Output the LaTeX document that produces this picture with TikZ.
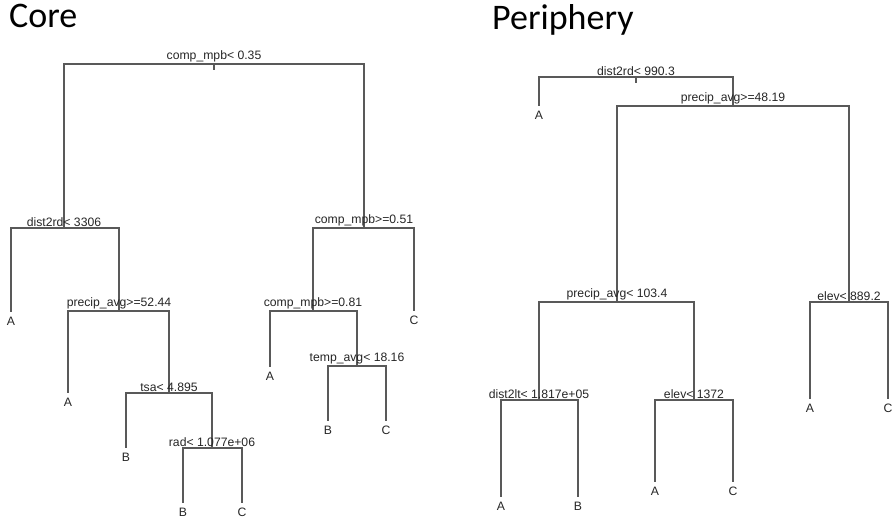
\documentclass[tikz,border=0pt]{standalone}
\usepackage{fontspec}
\setmainfont{Liberation Sans}
\newfontfamily\titlefont{Carlito}
\begin{document}
\begin{tikzpicture}[x=1pt,y=-1pt,
  treeline/.style={draw=black!65,line width=1.3pt},
  split/.style={anchor=south,inner sep=0.5pt,yshift=1pt,text=black!85,font=\fontsize{12.2}{14}\selectfont},
  leaf/.style={anchor=north,inner sep=0pt,yshift=-5pt,text=black!85,font=\fontsize{12.2}{14}\selectfont},
  title/.style={anchor=base west,inner sep=0pt,font=\titlefont\fontsize{36}{42}\selectfont}]
\useasboundingbox (0,0) rectangle (896,521);
% titles
\node[title] (tcore) at (9,28) {Core};
\node[title] (tper) at (492,30) {Periphery};

% ---------- Core tree ----------
\coordinate (c1) at (214,64);
\coordinate (c2) at (64,228);
\coordinate (c2a) at (11,312);
\coordinate (c3) at (119,311);
\coordinate (c3a) at (68,393);
\coordinate (c4) at (169,393);
\coordinate (c4b) at (126,448);
\coordinate (c5) at (212,448);
\coordinate (c5b) at (183,503);
\coordinate (c5c) at (242,503);
\coordinate (c6) at (364,228);
\coordinate (c6c) at (414,311);
\coordinate (c7) at (313,311);
\coordinate (c7a) at (270,367);
\coordinate (c8) at (357,366);
\coordinate (c8b) at (328,421);
\coordinate (c8c) at (386,421);

\draw[treeline] (c1) -| (c2);
\draw[treeline] (c1) -| (c6);
\draw[treeline] (c1) -- ++(0,6);
\draw[treeline] (c2) -| (c2a);
\draw[treeline] (c2) -| (c3);
\draw[treeline] (c3) -| (c3a);
\draw[treeline] (c3) -| (c4);
\draw[treeline] (c4) -| (c4b);
\draw[treeline] (c4) -| (c5);
\draw[treeline] (c5) -| (c5b);
\draw[treeline] (c5) -| (c5c);
\draw[treeline] (c6) -| (c7);
\draw[treeline] (c6) -| (c6c);
\draw[treeline] (c7) -| (c7a);
\draw[treeline] (c7) -| (c8);
\draw[treeline] (c8) -| (c8b);
\draw[treeline] (c8) -| (c8c);

\node[split] (sc1) at (c1) {comp\_mpb< 0.35};
\node[split] (sc2) at (c2) {dist2rd< 3306};
\node[split] (sc3) at (c3) {precip\_avg>=52.44};
\node[split] (sc4) at (c4) {tsa< 4.895};
\node[split] (sc5) at (c5) {rad< 1.077e+06};
\node[split] (sc6) at (c6) {comp\_mpb>=0.51};
\node[split] (sc7) at (c7) {comp\_mpb>=0.81};
\node[split] (sc8) at (c8) {temp\_avg< 18.16};

\node[leaf] (lc2a) at (c2a) {A};
\node[leaf] (lc3a) at (c3a) {A};
\node[leaf] (lc4b) at (c4b) {B};
\node[leaf] (lc5b) at (c5b) {B};
\node[leaf] (lc5c) at (c5c) {C};
\node[leaf] (lc6c) at (c6c) {C};
\node[leaf] (lc7a) at (c7a) {A};
\node[leaf] (lc8b) at (c8b) {B};
\node[leaf] (lc8c) at (c8c) {C};

% ---------- Periphery tree ----------
\coordinate (p1) at (636,77);
\coordinate (p1a) at (539,106);
\coordinate (p2) at (733,106);
\coordinate (p3) at (617,302);
\coordinate (p4) at (539,400);
\coordinate (p4a) at (501,497);
\coordinate (p4b) at (578,497);
\coordinate (p5) at (694,400);
\coordinate (p5a) at (655,482);
\coordinate (p5c) at (733,482);
\coordinate (p6) at (849,302);
\coordinate (p6a) at (810,399);
\coordinate (p6c) at (888,399);

\draw[treeline] (p1) -| (p1a);
\draw[treeline] (p1) -| (p2);
\draw[treeline] (p1) -- ++(0,6);
\draw[treeline] (p2) -| (p3);
\draw[treeline] (p2) -| (p6);
\draw[treeline] (p3) -| (p4);
\draw[treeline] (p3) -| (p5);
\draw[treeline] (p4) -| (p4a);
\draw[treeline] (p4) -| (p4b);
\draw[treeline] (p5) -| (p5a);
\draw[treeline] (p5) -| (p5c);
\draw[treeline] (p6) -| (p6a);
\draw[treeline] (p6) -| (p6c);

\node[split] (sp1) at (p1) {dist2rd< 990.3};
\node[split] (sp2) at (p2) {precip\_avg>=48.19};
\node[split] (sp3) at (p3) {precip\_avg< 103.4};
\node[split] (sp4) at (p4) {dist2lt< 1.817e+05};
\node[split] (sp5) at (p5) {elev< 1372};
\node[split] (sp6) at (p6) {elev< 889.2};

\node[leaf] (lp1a) at (p1a) {A};
\node[leaf] (lp4a) at (p4a) {A};
\node[leaf] (lp4b) at (p4b) {B};
\node[leaf] (lp5a) at (p5a) {A};
\node[leaf] (lp5c) at (p5c) {C};
\node[leaf] (lp6a) at (p6a) {A};
\node[leaf] (lp6c) at (p6c) {C};
\end{tikzpicture}
\end{document}
